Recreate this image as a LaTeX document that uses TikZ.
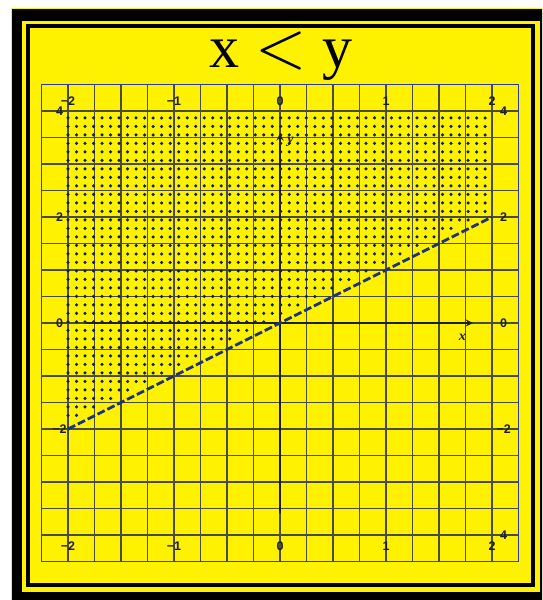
\documentclass[tikz,border=0pt]{standalone}
\usepackage{fontspec}
\setmainfont{Liberation Serif}
\setsansfont{Liberation Sans}
\definecolor{dotnavy}{RGB}{15,30,85}
\definecolor{linenavy}{RGB}{30,50,120}
\definecolor{gridgray}{RGB}{75,75,65}
\definecolor{gridblue}{RGB}{45,60,165}
\definecolor{axisdark}{RGB}{30,30,40}
\newcommand{\bigless}{{\fontsize{10}{12}\selectfont\scalebox{6.6}{$<$}}}
\begin{document}
\begin{tikzpicture}[x=1pt, y=-1pt, >=stealth, line join=round, line cap=round,
	gridline/.style={draw=gridgray, line width=1.6pt, line cap=butt},
	ticklbl/.style={font=\sffamily\bfseries\fontsize{12.5}{13}\selectfont, text=axisdark, inner sep=0pt},
	axlbl/.style={font=\bfseries\itshape\fontsize{14}{15}\selectfont, text=axisdark, inner sep=0pt}]
	% Khung ngoai: cac vien vang - den
	\useasboundingbox (0,0) rectangle (542,600);
	\clip (0,0) rectangle (542,600);
	\fill[white] (0,0) rectangle (542,600);
	\fill[yellow] (11,8) rectangle (551,605);
	\fill[black] (12,9) rectangle (550,604);
	\fill[yellow] (22,21) rectangle (540,592);
	\fill[black] (26,24) rectangle (535,587);
	\fill[yellow] (30,28) rectangle (531,583);
	
	% Tieu de
	\node[anchor=base, font=\fontsize{60}{62}\selectfont] (title) at (281,67) {x\hspace{16pt}\bigless\hspace{16pt}y};
	
	% He truc: goc O tai (280,323), 1 don vi x = 106pt, 1 don vi y = 53pt
	\begin{scope}[shift={(280,323)}, x=106pt, y=53pt]
		\coordinate (O) at (0,0);
		\coordinate (XL) at (-1.82,0);
		\coordinate (XR) at (1.82,0);
		\coordinate (YB) at (0,-3.58);
		\coordinate (YT) at (0,3.58);
		\coordinate (A) at (-2,-2);
		\coordinate (B) at (2,2);
		
		% 1. Luoi
		\foreach \k in {0,...,18} \draw[gridline] ({-2.25+\k*0.25},-4.5) -- ({-2.25+\k*0.25},4.5);
		\foreach \k in {0,...,18} \draw[gridline] (-2.25,{-4.5+\k*0.5}) -- (2.25,{-4.5+\k*0.5});
		\draw[gridblue, line width=1pt] (-2.25,-4.5) rectangle (2.25,4.5);
		
		% 2. Mien nghiem y > x: cac cham
		\foreach \i in {0,...,49} {
			\pgfmathsetmacro\xx{-2+\i*0.0803}
			\pgfmathtruncatemacro\nn{floor((3.72-\xx)/0.1604)}
			\foreach \j in {0,...,\nn} \fill[dotnavy] (\xx,{3.87-\j*0.1604}) circle (1.75pt);
		}
		
		% 3. Truc Ox, Oy
		\draw[->, axisdark, line width=2.2pt] (XL) -- (XR);
		\draw[->, axisdark, line width=2.2pt] (YB) -- (YT);
		\node[axlbl] (xlbl) at (1.72,-0.27) {x};
		\node[axlbl] (ylbl) at (0.1,3.42) {y};
		
		% 4. Duong bien y = x (net dut)
		\draw[linenavy, line width=2.8pt, line cap=butt, dash pattern=on 8pt off 3pt] (A) -- (B);
		
		% 5. Nhan tren cac truc
		\foreach \v/\t [count=\k] in {-2/{−2},-1/{−1},0/0,1/1,2/2} {
			\node[ticklbl] (top\k) at (\v,4.19) {\t};
			\node[ticklbl] (bot\k) at (\v,-4.21) {\t};
		}
		\foreach \v/\t [count=\k] in {4/4,2/2,0/0,-2/{−2}} \node[ticklbl] (lft\k) at (-2.08,\v) {\t};
		\foreach \v/\t [count=\k] in {4/4,2/2,0/0,-2/{−2},-4/4} \node[ticklbl] (rgt\k) at (2.11,\v) {\t};
	\end{scope}
\end{tikzpicture}
\end{document}
